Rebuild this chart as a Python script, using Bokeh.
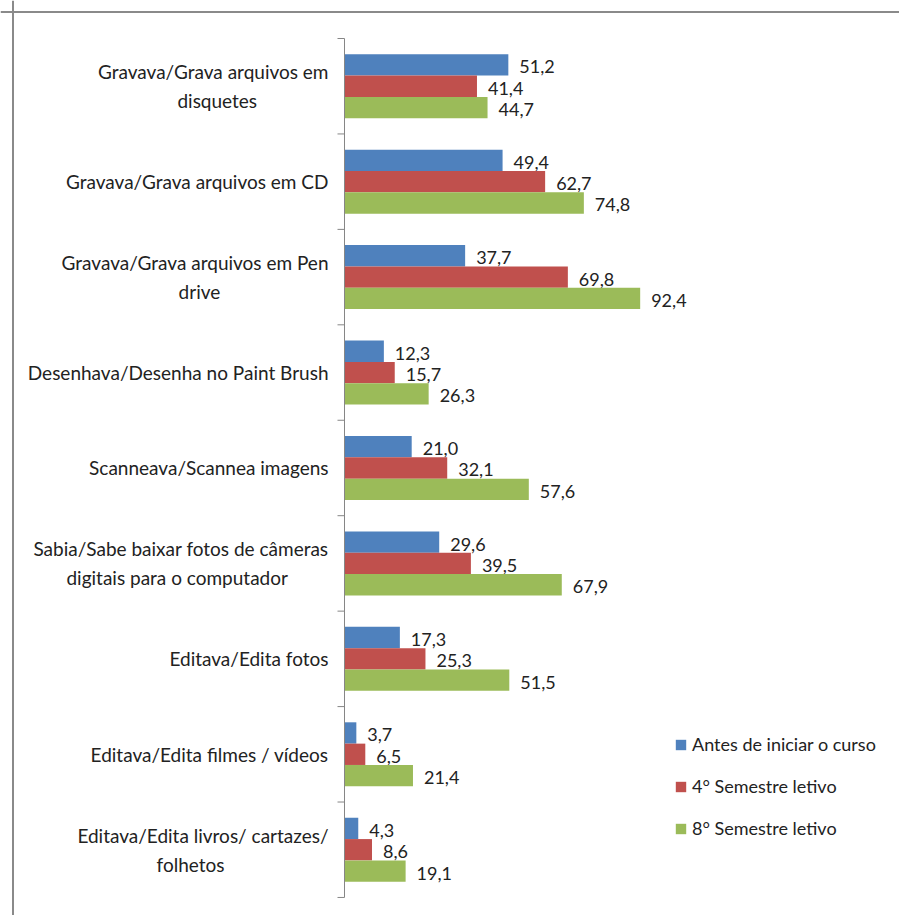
from bokeh.plotting import figure
from bokeh.models import Range1d, Span, ColumnDataSource, Legend, LegendItem
from bokeh.core.properties import value
from bokeh.embed import file_html
from bokeh.resources import INLINE

# ---------------- data ----------------
categories = [
    "Gravava/Grava arquivos em\ndisquetes",
    "Gravava/Grava arquivos em CD",
    "Gravava/Grava arquivos em Pen\ndrive",
    "Desenhava/Desenha no Paint Brush",
    "Scanneava/Scannea imagens",
    "Sabia/Sabe baixar fotos de câmeras\ndigitais para o computador",
    "Editava/Edita fotos",
    "Editava/Edita filmes / vídeos",
    "Editava/Edita livros/ cartazes/\nfolhetos",
]
series_names = ["Antes de iniciar o curso", "4° Semestre letivo", "8° Semestre letivo"]
antes = [51.2, 49.4, 37.7, 12.3, 21.0, 29.6, 17.3, 3.7, 4.3]
sem4 = [41.4, 62.7, 69.8, 15.7, 32.1, 39.5, 25.3, 6.5, 8.6]
sem8 = [44.7, 74.8, 92.4, 26.3, 57.6, 67.9, 51.5, 21.4, 19.1]
colors = ["#4F81BD", "#C0504D", "#9BBB59"]

# ---------------- layout constants ----------------
W, H = 899, 915
AXIS_PX = 344.0          # x pixel of value 0
PX_PER_UNIT = 3.2        # pixels per percent
TOP_PX = 38.0            # y pixel of top of first category
CAT_PX = 95.44           # pixels per category
BAR_H = 21.33 / CAT_PX   # bar thickness in category units
FONT = "Lato"
TXT = "#222222"

def px_to_x(px):
    return (px - AXIS_PX) / PX_PER_UNIT

def py_to_y(py):
    return (py - TOP_PX) / CAT_PX

p = figure(width=W, height=H, output_backend="svg", toolbar_location=None,
           x_axis_location=None, y_axis_location=None,
           x_range=Range1d(px_to_x(0), px_to_x(W)),
           y_range=Range1d(py_to_y(H), py_to_y(0)),
           min_border=0, min_border_left=0, min_border_right=0,
           min_border_top=0, min_border_bottom=0)
p.grid.visible = False
p.outline_line_color = None
p.background_fill_color = "white"
p.border_fill_color = "white"

n = len(categories)
centers = [i + 0.5 for i in range(n)]
all_series = [antes, sem4, sem8]
offsets = [-BAR_H, 0.0, BAR_H]

renderers = []
for vals, col, off, name in zip(all_series, colors, offsets, series_names):
    src = ColumnDataSource(dict(
        y=[c + off for c in centers],
        v=vals,
        lab=[f"{v:.1f}".replace(".", ",") for v in vals],
    ))
    r = p.hbar(y="y", left=0, right="v", height=BAR_H, source=src,
               fill_color=col, line_color=None)
    renderers.append((name, r))
    p.text(x="v", y="y", text="lab", source=src, x_offset=11, y_offset=2,
           text_align="left", text_baseline="middle",
           text_font=value(FONT), text_font_size="18px", text_color=TXT)

# axis line and category separator ticks
p.segment(x0=[0], x1=[0], y0=[0], y1=[n], line_color="#868686", line_width=1)
p.segment(x0=[px_to_x(AXIS_PX - 7)] * (n + 1), x1=[0] * (n + 1),
          y0=list(range(n + 1)), y1=list(range(n + 1)),
          line_color="#868686", line_width=1)

# category labels (block right-aligned, lines centered)
RIGHT_PX = 328
CHAR_W = 8.9
LINE_GAP = 29.0 / CAT_PX
lx, ly, lt, la = [], [], [], []
for i, cat in enumerate(categories):
    lines = cat.split("\n")
    k = len(lines)
    first = lines[0]
    block_w = len(first) * CHAR_W
    for j, line in enumerate(lines):
        yy = centers[i] + (j - (k - 1) / 2) * LINE_GAP
        if j == 0:
            lx.append(px_to_x(RIGHT_PX)); la.append("right")
        else:
            lx.append(px_to_x(RIGHT_PX - block_w / 2)); la.append("center")
        ly.append(yy); lt.append(line)
lab_src = ColumnDataSource(dict(x=lx, y=ly, t=lt, a=la))
p.text(x="x", y="y", text="t", text_align="a", source=lab_src,
       text_baseline="middle", text_font=value(FONT), text_font_size="19px",
       text_color=TXT)

# chart border (left and top visible)
p.add_layout(Span(location=px_to_x(12.5), dimension="height",
                  line_color="#8a8a8a", line_width=2))
p.add_layout(Span(location=py_to_y(11.5), dimension="width",
                  line_color="#8a8a8a", line_width=2))

legend = Legend(items=[LegendItem(label=nm, renderers=[r]) for nm, r in renderers],
                location=(674, 76), orientation="vertical",
                glyph_width=13, glyph_height=13, label_height=22, spacing=20,
                padding=0, margin=0, label_standoff=5,
                border_line_color=None, background_fill_alpha=0,
                label_text_font=FONT, label_text_font_size="18px",
                label_text_color=TXT)
p.add_layout(legend)

open("out.html", "w").write(file_html(p, INLINE))
